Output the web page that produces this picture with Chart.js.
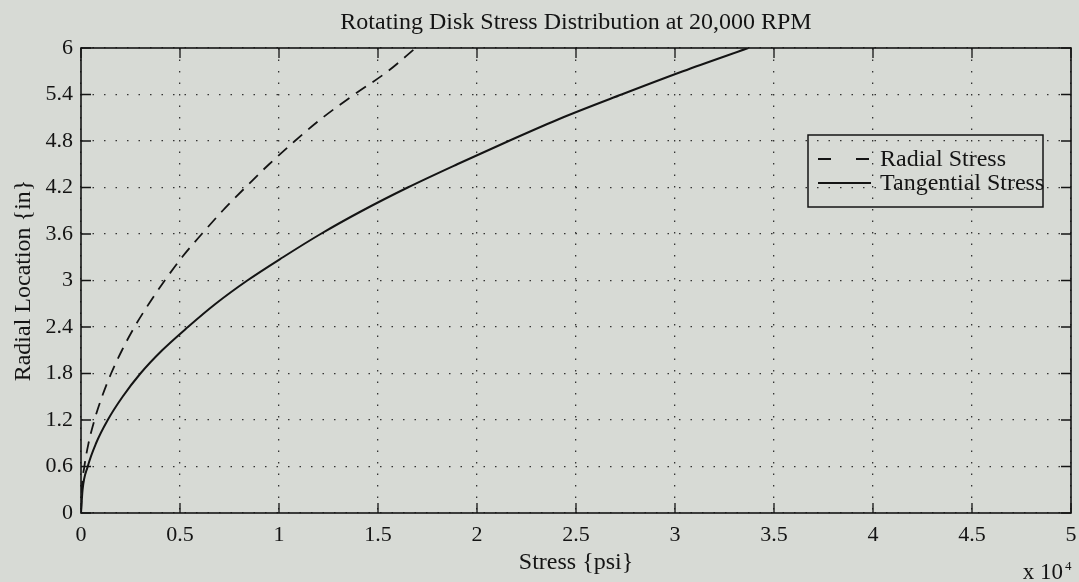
<!DOCTYPE html>
<html>
<head>
<meta charset="utf-8">
<script src="https://cdn.jsdelivr.net/npm/chart.js@4/dist/chart.umd.min.js"></script>
<style>
  html, body { margin: 0; padding: 0; background: #d7dad5; }
</style>
</head>
<body>
<canvas id="stressChart" width="1079" height="582"></canvas>
<script>
// radial location (in) and the two stress curves (psi)
const radius = [0, 0.3, 0.6, 0.9, 1.2, 1.5, 1.8, 2.1, 2.4, 2.7, 3.0, 3.3, 3.6, 3.9, 4.2, 4.5, 4.8, 5.1, 5.4, 5.7, 6.0];
const radialStress = [0, 40, 170, 380, 680, 1060, 1520, 2070, 2700, 3430, 4230, 5100, 6100, 7150, 8300, 9500, 10800, 12200, 13800, 15500, 16900];
const tangentialStress = [0, 80, 340, 760, 1350, 2100, 3000, 4100, 5400, 6800, 8400, 10200, 12100, 14200, 16500, 19000, 21600, 24300, 27300, 30400, 33700];

const xTicks = [0, 5000, 10000, 15000, 20000, 25000, 30000, 35000, 40000, 45000, 50000];
const yTicks = [0, 0.6, 1.2, 1.8, 2.4, 3, 3.6, 4.2, 4.8, 5.4, 6];

const serif = "'Liberation Serif', 'Times New Roman', serif";
const ink = '#141414';

function toPoints(values) {
    return radius.map((r, i) => ({ x: values[i], y: r }));
}

// background, axis box, inward ticks, legend and the x10^4 note
const matlabFrame = {
    id: 'matlabFrame',
    beforeDraw(chart) {
        const ctx = chart.ctx;
        ctx.save();
        ctx.fillStyle = '#d7dad5';
        ctx.fillRect(0, 0, chart.width, chart.height);
        ctx.restore();
    },
    afterDatasetsDraw(chart) {
        const ctx = chart.ctx;
        const a = chart.chartArea;
        const xs = chart.scales.x;
        const ys = chart.scales.y;
        ctx.save();
        ctx.strokeStyle = ink;
        ctx.lineWidth = 1.6;
        ctx.setLineDash([]);
        ctx.strokeRect(a.left, a.top, a.right - a.left, a.bottom - a.top);

        ctx.lineWidth = 1.3;
        ctx.beginPath();
        xs.ticks.forEach(t => {
            const px = xs.getPixelForValue(t.value);
            ctx.moveTo(px, a.bottom); ctx.lineTo(px, a.bottom - 10);
            ctx.moveTo(px, a.top); ctx.lineTo(px, a.top + 10);
        });
        ys.ticks.forEach(t => {
            const py = ys.getPixelForValue(t.value);
            ctx.moveTo(a.left, py); ctx.lineTo(a.left + 10, py);
            ctx.moveTo(a.right, py); ctx.lineTo(a.right - 10, py);
        });
        ctx.stroke();

        // legend
        const bx = a.right - 263, by = a.top + 87, bw = 235, bh = 72;
        ctx.lineWidth = 1.5;
        ctx.strokeRect(bx, by, bw, bh);
        ctx.font = '24px ' + serif;
        ctx.fillStyle = ink;
        ctx.textBaseline = 'middle';
        chart.data.datasets.forEach((ds, i) => {
            const cy = by + 24 + i * 24;
            ctx.beginPath();
            ctx.lineWidth = 1.8;
            ctx.setLineDash(i === 0 ? [13, 25] : []);
            ctx.moveTo(bx + 10, cy);
            ctx.lineTo(bx + 63, cy);
            ctx.stroke();
            ctx.setLineDash([]);
            ctx.fillText(ds.label, bx + 72, cy + 1);
        });

        // exponent note
        ctx.textBaseline = 'alphabetic';
        ctx.textAlign = 'right';
        ctx.font = '23px ' + serif;
        ctx.fillText('x 10', a.right - 8, 579);
        ctx.textAlign = 'left';
        ctx.font = '13px ' + serif;
        ctx.fillText('4', a.right - 6, 570);
        ctx.restore();
    }
};

const config = {
    type: 'scatter',
    data: {
        datasets: [{
            label: 'Radial Stress',
            data: toPoints(radialStress),
            showLine: true,
            borderColor: ink,
            borderWidth: 1.8,
            borderDash: [12, 8],
            pointRadius: 0,
            cubicInterpolationMode: 'monotone'
        }, {
            label: 'Tangential Stress',
            data: toPoints(tangentialStress),
            showLine: true,
            borderColor: ink,
            borderWidth: 2,
            pointRadius: 0,
            cubicInterpolationMode: 'monotone'
        }]
    },
    options: {
        responsive: false,
        animation: false,
        layout: { padding: { left: 0, right: 8, top: 0, bottom: 0 } },
        plugins: {
            legend: { display: false },
            tooltip: { enabled: false },
            title: {
                display: true,
                fullSize: false,
                text: 'Rotating Disk Stress Distribution at 20,000 RPM',
                color: ink,
                font: { family: serif, size: 24, weight: 'normal' },
                padding: { top: 8, bottom: 11.2 }
            }
        },
        scales: {
            x: {
                type: 'linear',
                min: 0,
                max: 50000,
                afterBuildTicks: scale => { scale.ticks = xTicks.map(v => ({ value: v })); },
                afterFit: scale => {
                    scale.height = 69;
                    scale.paddingLeft = 0;
                    scale.paddingRight = 0;
                },
                grid: { color: '#333', lineWidth: 1.3, drawTicks: false },
                border: { display: false, dash: [1.5, 10] },
                ticks: {
                    color: ink,
                    padding: 9,
                    maxRotation: 0,
                    font: { family: serif, size: 22 },
                    callback: v => String(v / 10000)
                },
                title: {
                    display: true,
                    text: 'Stress {psi}',
                    color: ink,
                    font: { family: serif, size: 24 },
                    padding: { top: 0, bottom: 4.6 }
                }
            },
            y: {
                type: 'linear',
                min: 0,
                max: 6,
                afterBuildTicks: scale => { scale.ticks = yTicks.map(v => ({ value: v })); },
                afterFit: scale => {
                    scale.width = 81;
                    scale.paddingTop = 0;
                    scale.paddingBottom = 0;
                },
                grid: { color: '#333', lineWidth: 1.3, drawTicks: false },
                border: { display: false, dash: [1.5, 10] },
                ticks: {
                    color: ink,
                    padding: 8,
                    font: { family: serif, size: 22 },
                    callback: v => String(Math.round(v * 10) / 10)
                },
                title: {
                    display: true,
                    text: 'Radial Location {in}',
                    color: ink,
                    font: { family: serif, size: 24 },
                    padding: { top: 9.6, bottom: 0 }
                }
            }
        }
    },
    plugins: [matlabFrame]
};

var stressChart = new Chart(document.getElementById('stressChart'), config);
</script>
</body>
</html>
